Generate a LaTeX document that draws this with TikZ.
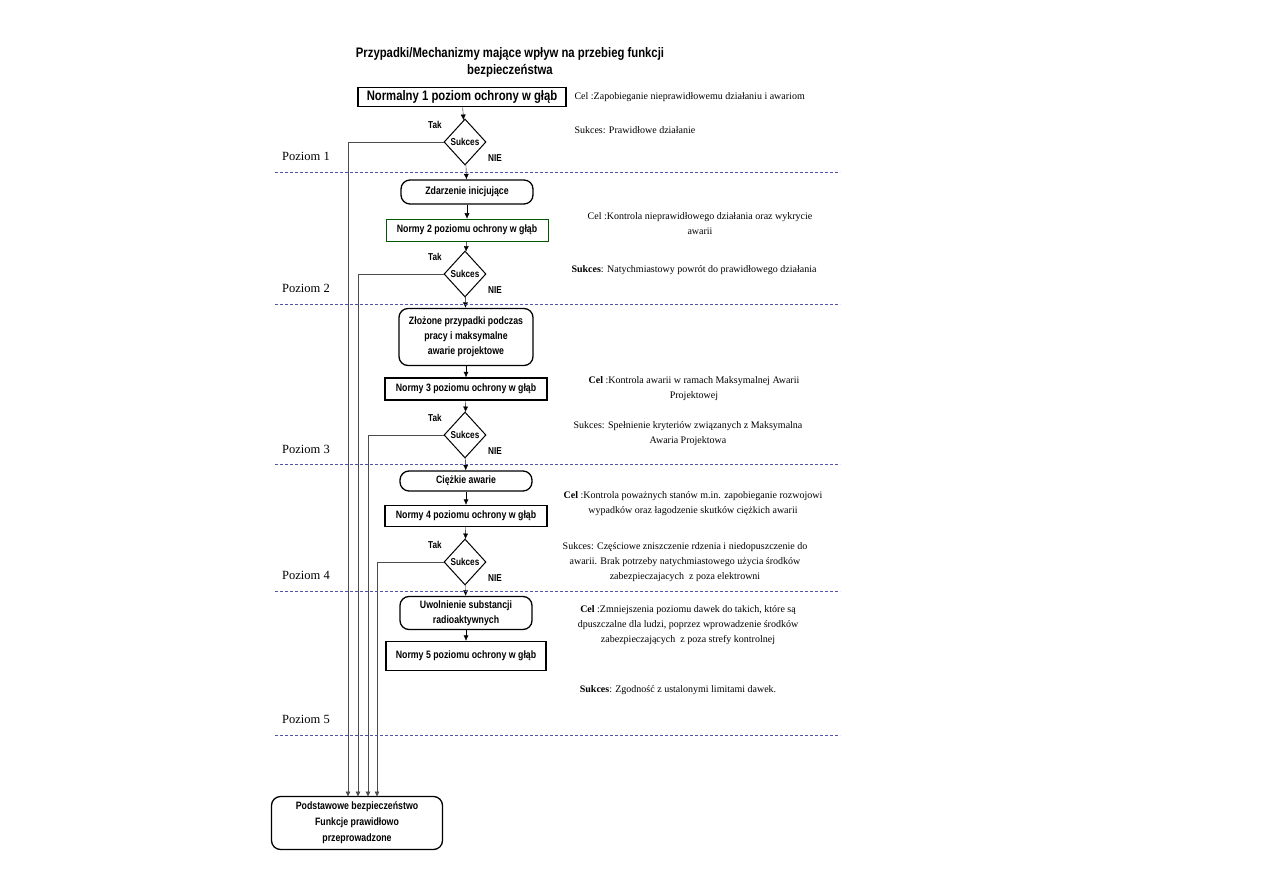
\documentclass[tikz,border=0pt]{standalone}
\usepackage{fontspec}
\setmainfont{Liberation Serif}
\newfontfamily\boxfont{Liberation Sans}[FakeStretch=0.82]
\usetikzlibrary{arrows.meta,positioning,shapes.geometric,calc}

\begin{document}
\begin{tikzpicture}[x=1pt,y=-1pt,>={Latex[length=5.5pt,width=5pt]},
  box/.style={draw,line width=1.3pt,inner sep=0pt,align=center,
    font=\boxfont\bfseries\fontsize{10.7}{15}\selectfont},
  rbox/.style={box,rounded corners=9pt},
  dec/.style={draw,diamond,inner sep=0pt,minimum width=42pt,minimum height=46pt,
    line width=1pt,label={[font=\boxfont\bfseries\fontsize{10}{12}\selectfont]center:Sukces}},
  yn/.style={font=\boxfont\bfseries\fontsize{10}{12}\selectfont},
  note/.style={align=center,font=\fontsize{10}{15}\selectfont},
  lvl/.style={font=\fontsize{12.5}{15}\selectfont},
  sep/.style={draw=blue!35!gray,dash pattern=on 3pt off 2pt,line width=0.6pt},
  fb/.style={->,draw=gray!60!black,line width=0.6pt}]
  \useasboundingbox (0,0) rectangle (1263,893);

  % title
  \node[align=center,font=\boxfont\bfseries\fontsize{13.8}{17}\selectfont] (title) at (510,62)
    {Przypadki/Mechanizmy mające wpływ na przebieg funkcji\\bezpieczeństwa};

  % main column
  \node[box,minimum width=208pt,minimum height=19pt,line width=1.6pt,
    font=\boxfont\bfseries\fontsize{13.8}{15}\selectfont] (n1) at (462,97) {Normalny 1 poziom ochrony w głąb};
  \node[dec] (s1) at (465,142) {};
  \node[rbox,minimum width=132pt,minimum height=24pt] (z1) at (467,192) {Zdarzenie inicjujące};
  \node[box,minimum width=162pt,minimum height=22pt,line width=0.6pt,draw=green!35!black] (n2) at (467,230) {Normy 2 poziomu ochrony w głąb};
  \node[dec] (s2) at (465,274) {};
  \node[rbox,minimum width=134pt,minimum height=57pt] (z2) at (466,337) {Złożone przypadki podczas\\pracy i maksymalne\\awarie projektowe};
  \node[box,minimum width=162pt,minimum height=22pt] (n3) at (466,389) {Normy 3 poziomu ochrony w głąb};
  \node[dec] (s3) at (465,435) {};
  \node[rbox,minimum width=132pt,minimum height=20pt] (z3) at (466,481) {Ciężkie awarie};
  \node[box,minimum width=162pt,minimum height=21pt] (n4) at (466,516) {Normy 4 poziomu ochrony w głąb};
  \node[dec] (s4) at (465,562) {};
  \node[rbox,minimum width=132pt,minimum height=33pt] (z4) at (466,613) {Uwolnienie substancji\\radioaktywnych};
  \node[box,minimum width=160pt,minimum height=29pt] (n5) at (466,656) {Normy 5 poziomu ochrony w głąb};
  \node[rbox,minimum width=171pt,minimum height=53pt,font=\boxfont\bfseries\fontsize{10.7}{16}\selectfont] (base) at (357,823) {Podstawowe bezpieczeństwo\\Funkcje prawidłowo\\przeprowadzone};

  \draw[->] (n1) -- (s1);
  \draw[->] (s1) -- (z1);
  \draw[->] (z1) -- (n2);
  \draw[->] (n2) -- (s2);
  \draw[->] (s2) -- (z2);
  \draw[->] (z2) -- (n3);
  \draw[->] (n3) -- (s3);
  \draw[->] (s3) -- (z3);
  \draw[->] (z3) -- (n4);
  \draw[->] (n4) -- (s4);
  \draw[->] (s4) -- (z4);
  \draw[->] (z4) -- (n5);

  \foreach \d in {s1,s2,s3,s4}{
    \node[yn] at ([shift={(-30,-17)}]\d.center) {Tak};
    \node[yn] at ([shift={(30,16)}]\d.center) {NIE};
  }

  % success paths to the bottom box
  \coordinate (in1) at (348,797);
  \coordinate (in2) at (358,797);
  \coordinate (in3) at (368,797);
  \coordinate (in4) at (377,797);
  \draw[fb] (s1.west) -| (in1);
  \draw[fb] (s2.west) -| (in2);
  \draw[fb] (s3.west) -| (in3);
  \draw[fb] (s4.west) -| (in4);

  % level separators
  \foreach \y in {172,304,464,591,735}
    \draw[sep] (275,\y) -- (840,\y);
  \node[lvl] (p1) at (306,156) {Poziom 1};
  \node[lvl] (p2) at (306,288) {Poziom 2};
  \node[lvl] (p3) at (306,449) {Poziom 3};
  \node[lvl] (p4) at (306,575) {Poziom 4};
  \node[lvl] (p5) at (306,719) {Poziom 5};

  % goals / success criteria
  \node[note,anchor=west] (c1) at (571,97) {Cel :Zapobieganie nieprawidłowemu działaniu i awariom};
  \node[note,anchor=west] (u1) at (571,130) {Sukces: Prawidłowe działanie};
  \node[note] (c2) at (700,224) {Cel :Kontrola nieprawidłowego działania oraz wykrycie\\awarii};
  \node[note] (u2) at (694,270) {\textbf{Sukces}: Natychmiastowy powrót do prawidłowego działania};
  \node[note] (c3) at (694,389) {\textbf{Cel} :Kontrola awarii w ramach Maksymalnej Awarii\\Projektowej};
  \node[note] (u3) at (688,434) {Sukces: Spełnienie kryteriów związanych z Maksymalna\\Awaria Projektowa};
  \node[note] (c4) at (693,504) {\textbf{Cel} :Kontrola poważnych stanów m.in. zapobieganie rozwojowi\\wypadków oraz łagodzenie skutków ciężkich awarii};
  \node[note] (u4) at (685,562) {Sukces: Częściowe zniszczenie rdzenia i niedopuszczenie do\\awarii. Brak potrzeby natychmiastowego użycia środków\\zabezpieczajacych\ \ z poza elektrowni};
  \node[note] (c5) at (688,625) {\textbf{Cel} :Zmniejszenia poziomu dawek do takich, które są\\dpuszczalne dla ludzi, poprzez wprowadzenie środków\\zabezpieczających\ \ z poza strefy kontrolnej};
  \node[note] (u5) at (678,690) {\textbf{Sukces}: Zgodność z ustalonymi limitami dawek.};
\end{tikzpicture}
\end{document}
